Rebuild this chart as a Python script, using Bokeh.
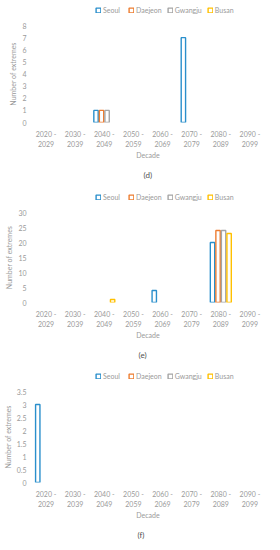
from bokeh.plotting import figure
from bokeh.models import (Legend, LegendItem, FixedTicker, Title, Range1d, FactorRange,
                          ColumnDataSource, CustomJSTickFormatter, CategoricalAxis)
from bokeh.transform import dodge
from bokeh.layouts import column
from bokeh.embed import file_html
from bokeh.resources import INLINE

decades = ["2020 - 2029", "2030 - 2039", "2040 - 2049", "2050 - 2059",
           "2060 - 2069", "2070 - 2079", "2080 - 2089", "2090 - 2099"]
decade_line1 = ["2020 -", "2030 -", "2040 -", "2050 -", "2060 -", "2070 -", "2080 -", "2090 -"]
decade_line2 = ["2029", "2039", "2049", "2059", "2069", "2079", "2089", "2099"]
cities = ["Seoul", "Daejeon", "Gwangju", "Busan"]
colors = ["#2A8FCC", "#ED7D31", "#A5A5A5", "#FFC000"]

# panel (d)
d_seoul = [0, 0, 1, 0, 0, 7, 0, 0]
d_daejeon = [0, 0, 1, 0, 0, 0, 0, 0]
d_gwangju = [0, 0, 1, 0, 0, 0, 0, 0]
d_busan = [0, 0, 0, 0, 0, 0, 0, 0]
d_ticks = [0, 1, 2, 3, 4, 5, 6, 7, 8]

# panel (e)
e_seoul = [0, 0, 0, 0, 4, 0, 20, 0]
e_daejeon = [0, 0, 0, 0, 0, 0, 24, 0]
e_gwangju = [0, 0, 0, 0, 0, 0, 24, 0]
e_busan = [0, 0, 1, 0, 0, 0, 23, 0]
e_ticks = [0, 5, 10, 15, 20, 25, 30]

# panel (f)
f_seoul = [3, 0, 0, 0, 0, 0, 0, 0]
f_daejeon = [0, 0, 0, 0, 0, 0, 0, 0]
f_gwangju = [0, 0, 0, 0, 0, 0, 0, 0]
f_busan = [0, 0, 0, 0, 0, 0, 0, 0]
f_ticks = [0, 0.5, 1, 1.5, 2, 2.5, 3, 3.5]

FONT = "Lato"
TXT = "#9A9A9A"
offsets = [-0.285, -0.095, 0.095, 0.285]
LEG_H = 12


def style_axis(ax):
    ax.axis_line_color = None
    ax.major_tick_line_color = None
    ax.minor_tick_line_color = None
    ax.major_tick_out = 0
    ax.major_tick_in = 0
    ax.minor_tick_out = 0
    ax.minor_tick_in = 0
    ax.major_label_text_font = FONT
    ax.major_label_text_font_size = "7px"
    ax.major_label_text_color = TXT
    ax.axis_label_text_font = FONT
    ax.axis_label_text_font_size = "7px"
    ax.axis_label_text_color = TXT
    ax.axis_label_text_font_style = "normal"


def legend_fig(series, height, legend_x):
    q = figure(x_range=decades, y_range=Range1d(0, 1), width=264, height=height,
               output_backend="svg", toolbar_location=None,
               x_axis_location=None, y_axis_location=None,
               min_border_top=0, min_border_bottom=0,
               min_border_left=0, min_border_right=0)
    q.outline_line_color = None
    q.grid.grid_line_color = None
    items = []
    for city, color, vals, off in zip(cities, colors, series, offsets):
        full = ColumnDataSource(dict(x=decades, top=vals))
        lr = q.vbar(x=dodge("x", off, range=q.x_range), top="top", bottom=0,
                    width=0.15, source=full, fill_color="white",
                    line_color=color, line_width=1.4, visible=False)
        items.append(LegendItem(label=city, renderers=[lr]))
    leg = Legend(items=items, orientation="horizontal",
                 location=(legend_x, (height - LEG_H) / 2),
                 margin=0, padding=2, spacing=5, label_standoff=2,
                 glyph_width=6, glyph_height=6, label_height=8,
                 label_text_font_size="7px", label_text_font=FONT,
                 label_text_color=TXT, border_line_color=None,
                 background_fill_alpha=0)
    q.add_layout(leg)
    return q


def chart(series, ticks, caption, height, top_border, bottom_border,
          left_border, cap_offset):
    p = figure(x_range=decades, width=264, height=height, output_backend="svg",
               toolbar_location=None, min_border_top=top_border,
               min_border_left=left_border, min_border_right=0,
               min_border_bottom=bottom_border)
    p.y_range = Range1d(ticks[0], ticks[-1])
    p.extra_x_ranges = {"l1": FactorRange(factors=decade_line1),
                        "l2": FactorRange(factors=decade_line2)}
    p.outline_line_color = None
    p.grid.grid_line_color = None

    for city, color, vals, off in zip(cities, colors, series, offsets):
        xs = [d for d, v in zip(decades, vals) if v > 0]
        ys = [v for v in vals if v > 0]
        src = ColumnDataSource(dict(x=xs, top=ys))
        p.vbar(x=dodge("x", off, range=p.x_range), top="top", bottom=0,
               width=0.15, source=src, fill_color="white",
               line_color=color, line_width=1.4)

    p.xaxis.visible = False
    ax1 = CategoricalAxis(x_range_name="l1")
    style_axis(ax1)
    ax1.major_label_standoff = 7
    p.add_layout(ax1, "below")
    ax2 = CategoricalAxis(x_range_name="l2")
    style_axis(ax2)
    ax2.major_label_standoff = 0
    ax2.axis_label = "Decade"
    ax2.axis_label_standoff = 1
    p.add_layout(ax2, "below")

    p.yaxis.ticker = FixedTicker(ticks=ticks)
    p.yaxis.formatter = CustomJSTickFormatter(code="return tick.toString();")
    style_axis(p.yaxis[0])
    p.yaxis.axis_label = "Number of extremes"
    p.yaxis.major_label_standoff = 5
    p.yaxis.axis_label_standoff = 2

    cap = Title(text=caption, align="left", offset=cap_offset,
                text_font=FONT, text_font_size="8px", text_color="#505050",
                text_font_style="normal", standoff=13)
    p.add_layout(cap, "below")
    return p


d_series = [d_seoul, d_daejeon, d_gwangju, d_busan]
e_series = [e_seoul, e_daejeon, e_gwangju, e_busan]
f_series = [f_seoul, f_daejeon, f_gwangju, f_busan]

layout = column(
    legend_fig(d_series, 16, 64),
    chart(d_series, d_ticks, "(d)", 170, 9, 63, 18, 112),
    legend_fig(e_series, 18, 64),
    chart(e_series, e_ticks, "(e)", 162, 8, 63, 23, 107),
    legend_fig(f_series, 16, 64),
    chart(f_series, f_ticks, "(f)", 164, 9, 63, 24, 106),
    spacing=0)
open("out.html", "w").write(file_html(layout, INLINE))
